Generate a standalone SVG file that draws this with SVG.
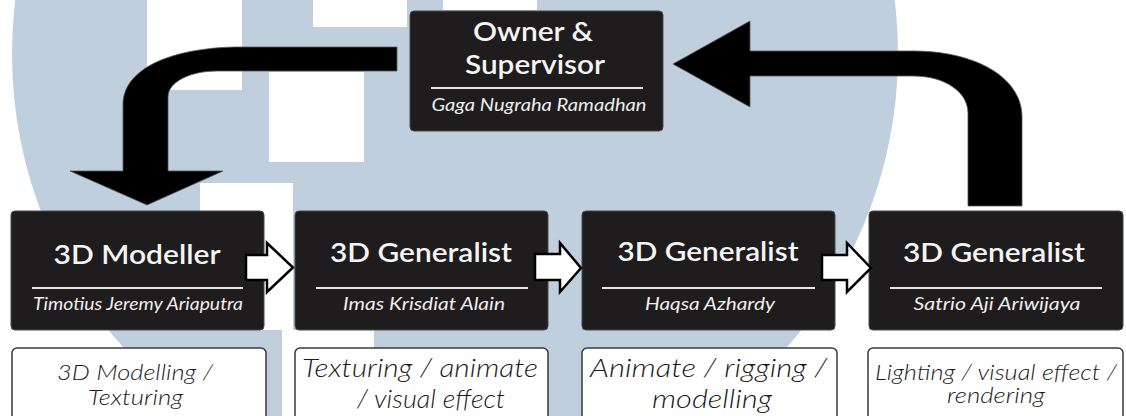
<svg xmlns="http://www.w3.org/2000/svg" width="1126" height="416" viewBox="0 0 1126 416">
<style>
.box{fill:#1e1c1d;stroke:#4a4a4a;stroke-width:1}
.desc{fill:#ffffff;stroke:#3a3a3a;stroke-width:1.5}
.sep{stroke:#e6e6e6;stroke-width:2.2}
.title{font-family:Lato,"Open Sans",sans-serif;font-weight:600;font-size:26px;fill:#f4f4f4;text-anchor:middle}
.sub{font-family:Lato,"Open Sans",sans-serif;font-style:italic;font-size:17px;fill:#eeeeee;text-anchor:middle}
.task{font-family:Lato,"Open Sans",sans-serif;font-style:italic;font-weight:300;fill:#1a1a1a;text-anchor:middle}
.big{fill:#000000;stroke:#555555;stroke-width:0.8}
.small{fill:#ffffff;stroke:#000000;stroke-width:2.5;stroke-linejoin:miter}
.wm{fill:#ffffff}
</style>
<rect width="1126" height="416" fill="#ffffff"/>
<g id="watermark">
<circle cx="455" cy="54" r="443" fill="#c0cfdd"/>
<rect class="wm" x="147" y="0" width="95" height="90"/>
<rect class="wm" x="313" y="0" width="94" height="27"/>
<rect class="wm" x="443" y="0" width="94" height="10"/>
<rect class="wm" x="269" y="72" width="95" height="90"/>
<rect class="wm" x="200" y="183" width="93" height="147"/>
<rect class="wm" x="282" y="330" width="92" height="90"/>
</g>
<g id="owner">
<rect class="box" x="410" y="11" width="253" height="120" rx="4"/>
<text class="title" x="533" y="41" textLength="120" lengthAdjust="spacingAndGlyphs">Owner &amp;</text>
<text class="title" x="535" y="74" textLength="140" lengthAdjust="spacingAndGlyphs">Supervisor</text>
<line class="sep" x1="431" y1="88" x2="643" y2="88"/>
<text class="sub" x="539" y="111" textLength="215" lengthAdjust="spacingAndGlyphs">Gaga Nugraha Ramadhan</text>
</g>
<g id="modeller">
<rect class="box" x="11" y="211" width="253" height="119" rx="4"/>
<text class="title" x="137" y="264" textLength="167" lengthAdjust="spacingAndGlyphs">3D Modeller</text>
<line class="sep" x1="32" y1="288" x2="243" y2="288"/>
<text class="sub" x="138" y="310" textLength="210" lengthAdjust="spacingAndGlyphs">Timotius Jeremy Ariaputra</text>
</g>
<g id="generalist1">
<rect class="box" x="295" y="211" width="253" height="119" rx="4"/>
<text class="title" x="421" y="262" textLength="182" lengthAdjust="spacingAndGlyphs">3D Generalist</text>
<line class="sep" x1="316" y1="288" x2="528" y2="288"/>
<text class="sub" x="424" y="310" textLength="162" lengthAdjust="spacingAndGlyphs">Imas Krisdiat Alain</text>
</g>
<g id="generalist2">
<rect class="box" x="582" y="211" width="253" height="119" rx="4"/>
<text class="title" x="708" y="261" textLength="181" lengthAdjust="spacingAndGlyphs">3D Generalist</text>
<line class="sep" x1="602" y1="288" x2="815" y2="288"/>
<text class="sub" x="710" y="310" textLength="130" lengthAdjust="spacingAndGlyphs">Haqsa Azhardy</text>
</g>
<g id="generalist3">
<rect class="box" x="869" y="211" width="254" height="119" rx="4"/>
<text class="title" x="994" y="262" textLength="182" lengthAdjust="spacingAndGlyphs">3D Generalist</text>
<line class="sep" x1="890" y1="288" x2="1102" y2="288"/>
<text class="sub" x="997" y="310" textLength="167" lengthAdjust="spacingAndGlyphs">Satrio Aji Ariwijaya</text>
</g>
<g id="task1">
<rect class="desc" x="12" y="348" width="254" height="92" rx="5"/>
<text class="task" font-size="21" x="135" y="380" textLength="156" lengthAdjust="spacingAndGlyphs">3D Modelling /</text>
<text class="task" font-size="21" x="135.5" y="405" textLength="95" lengthAdjust="spacingAndGlyphs">Texturing</text>
</g>
<g id="task2">
<rect class="desc" x="295" y="348" width="253" height="92" rx="5"/>
<text class="task" font-size="25" x="420" y="377" textLength="236" lengthAdjust="spacingAndGlyphs">Texturing / animate</text>
<text class="task" font-size="25" x="431" y="408" textLength="148" lengthAdjust="spacingAndGlyphs">/ visual effect</text>
</g>
<g id="task3">
<rect class="desc" x="582" y="348" width="255" height="92" rx="5"/>
<text class="task" font-size="25" x="708.5" y="377" textLength="237" lengthAdjust="spacingAndGlyphs">Animate / rigging /</text>
<text class="task" font-size="25" x="712" y="408" textLength="120" lengthAdjust="spacingAndGlyphs">modelling</text>
</g>
<g id="task4">
<rect class="desc" x="868" y="348" width="255" height="92" rx="5"/>
<text class="task" font-size="21" x="996" y="380" textLength="242" lengthAdjust="spacingAndGlyphs">Lighting / visual effect /</text>
<text class="task" font-size="21" x="996" y="403" textLength="98" lengthAdjust="spacingAndGlyphs">rendering</text>
</g>
<g id="connectors">
<path class="big" d="M397,47 H240 C180,47 123,65 123,105 V171 H70 L147,205 L223,171 H168 V97 C168,82 190,71 217,71 H397 Z"/>
<path class="big" d="M1022,206 V117 C1022,77 975,51 913,51 H750 V21 L673,64 L750,107 V76 H913 C945,76 968,92 968,113 V206 Z"/>
<path class="small" d="M246,255 H267 V243 L293,267.5 L267,292 V280 H246 Z"/>
<path class="small" d="M535,254 H560 V243 L581,268 L560,292 V280 H535 Z"/>
<path class="small" d="M822,255 H847 V243 L871,268 L847,292 V280 H822 Z"/>
</g>
</svg>
